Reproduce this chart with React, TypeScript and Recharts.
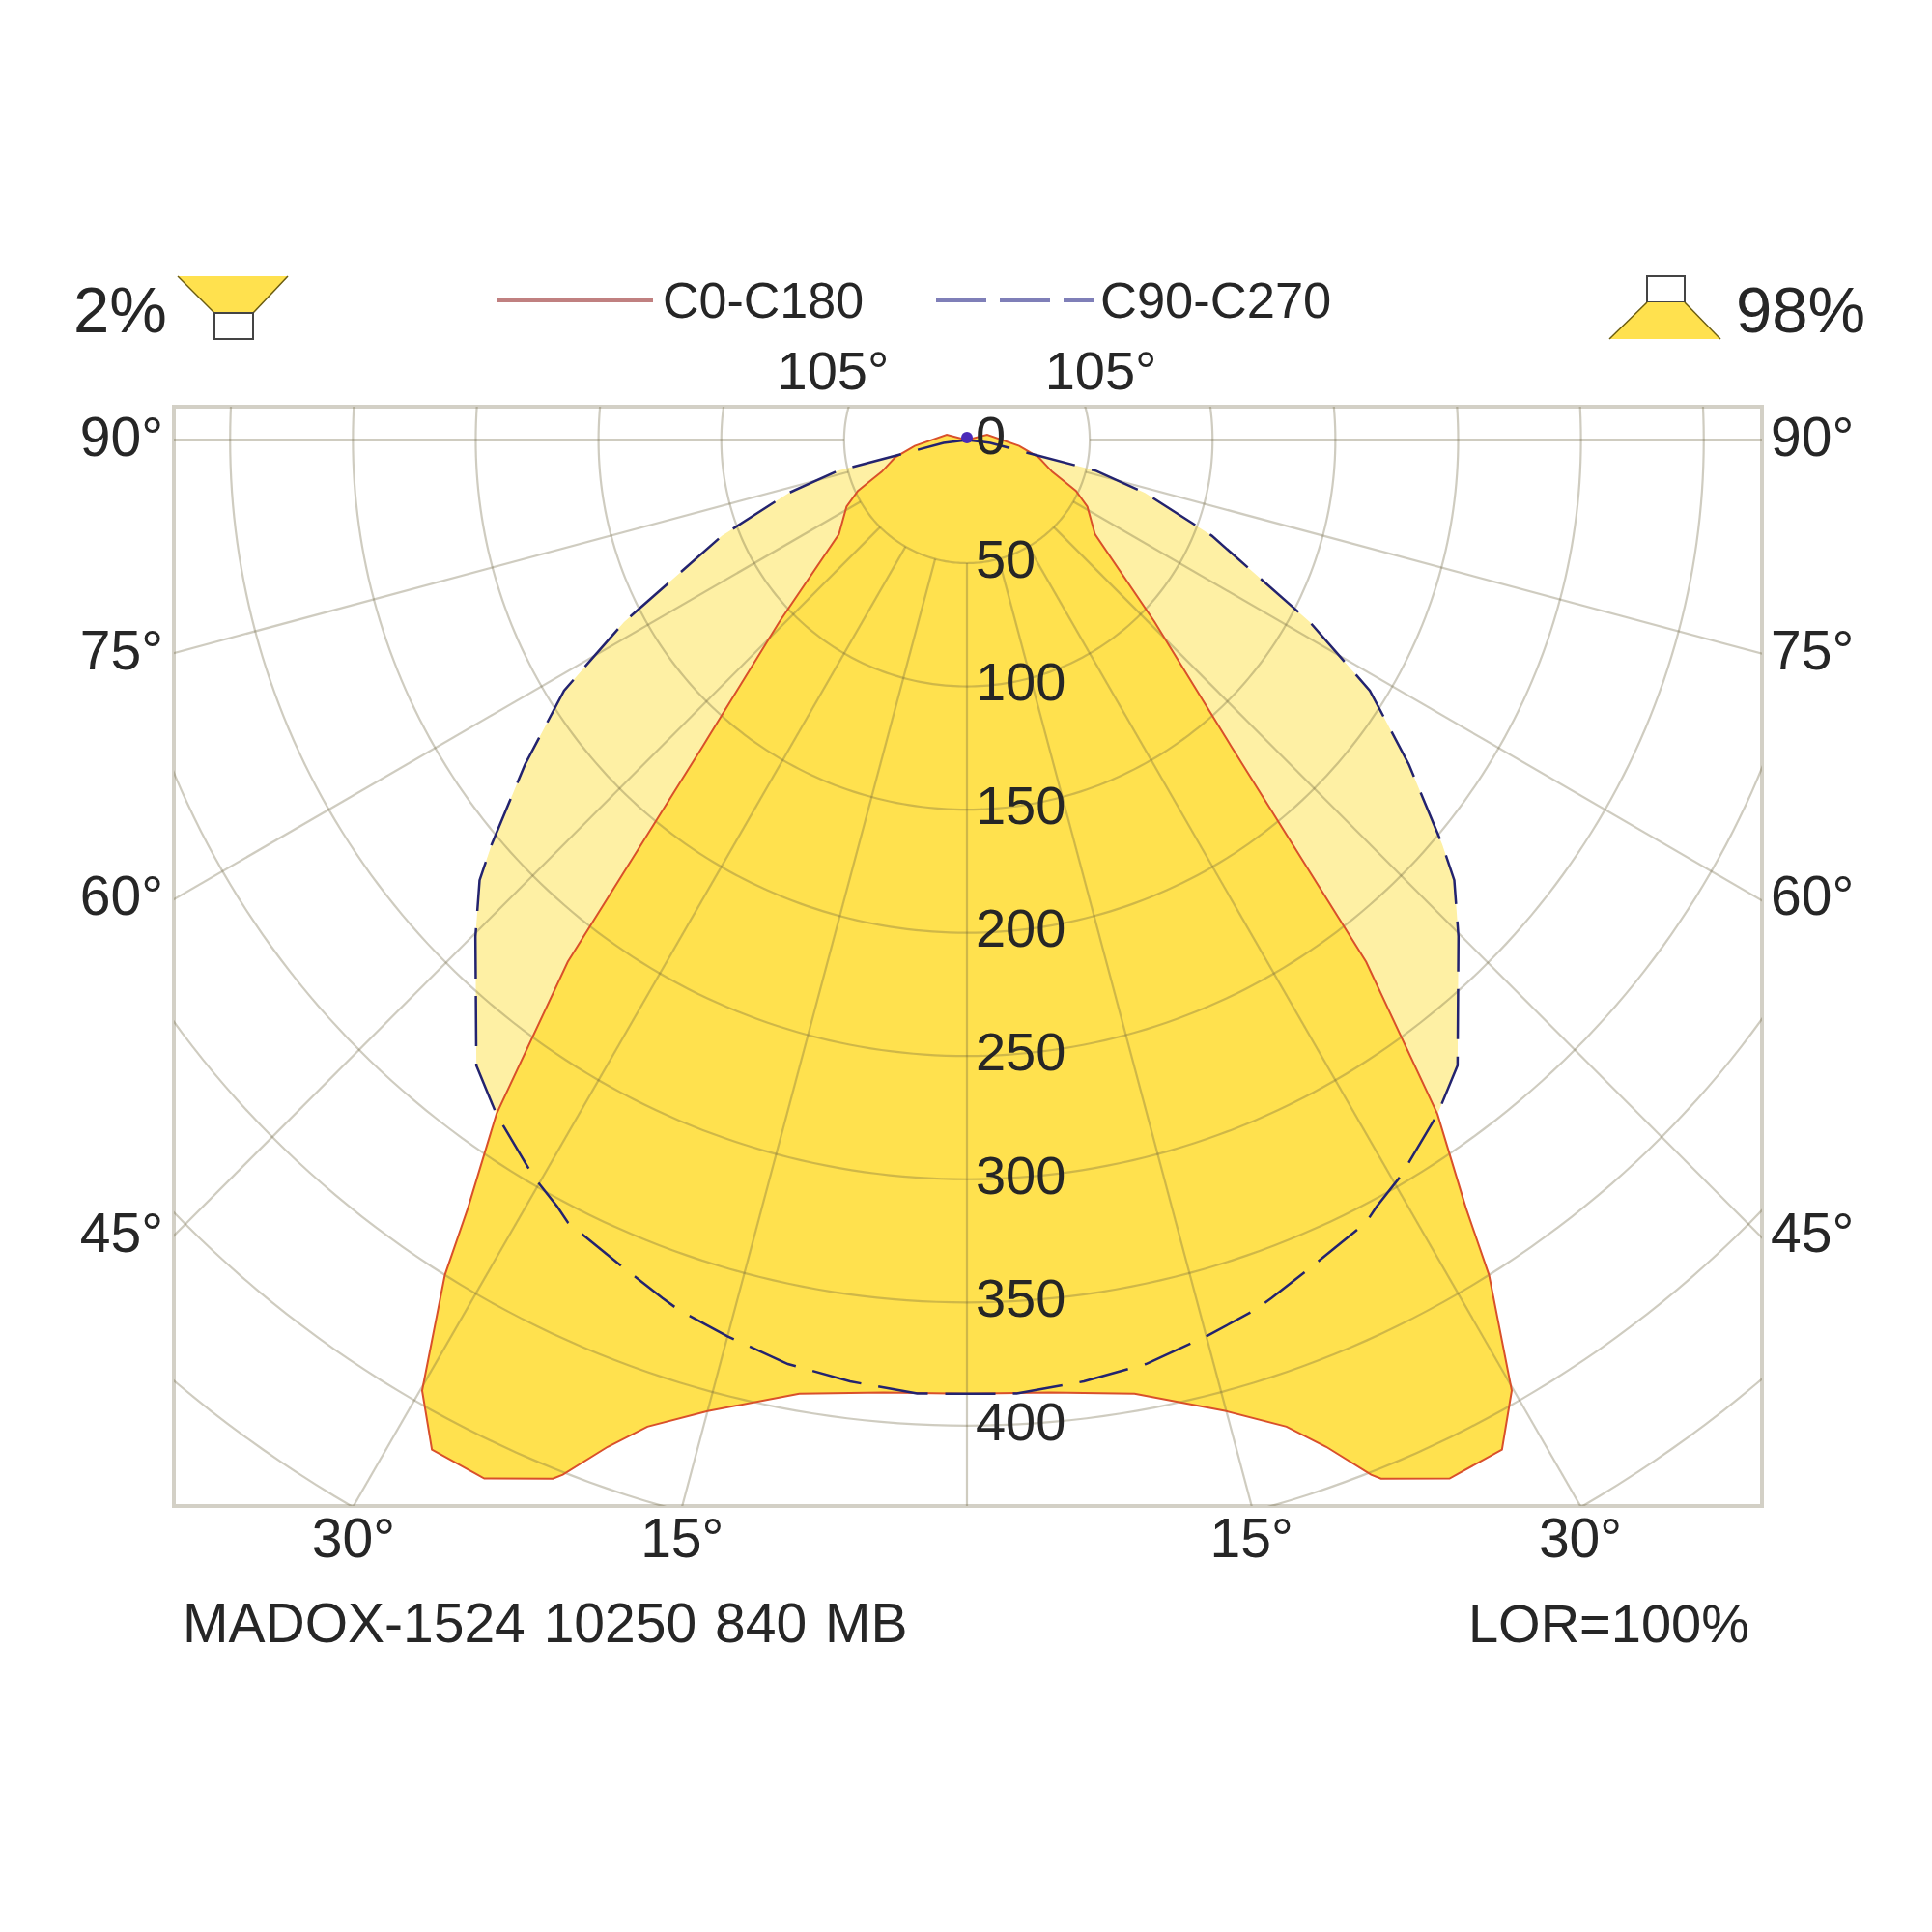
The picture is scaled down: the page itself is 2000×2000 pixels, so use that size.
import { ScatterChart, Scatter, XAxis, YAxis, ReferenceArea, ReferenceDot } from "recharts"

// half curves, the other side of the diagram is the mirror image
const c0Gamma = [0, 5, 10, 15, 18, 19.7, 21.4, 21.8, 25, 28, 29.9, 32.1, 33.1, 35, 37.5, 40.9, 46, 53.7, 58.2, 61.1, 65, 67, 69.6, 76.5, 83.5, 104.7, 180]
const c0Intensity = [387, 388, 393, 408, 421, 434, 451, 454, 465, 464, 445, 400, 372, 334, 267, 164, 106, 64.7, 59, 56, 49, 43, 37, 30, 21.4, 8.5, 0]
const c90Gamma = [0, 3, 7.1, 11, 15, 18.4, 19.6, 22.8, 27.1, 28.2, 30.6, 35, 38.2, 44.8, 48, 49.7, 53.8, 58.2, 62.1, 68.7, 73.5, 76.6, 77.6, 83, 180]
const c90Intensity = [387, 387.5, 385, 382, 376.6, 372, 369.6, 363.5, 356.7, 353, 347, 334, 323, 284, 267, 253.7, 223, 193, 158, 107, 75.6, 54, 29.4, 9.6, 0]

const radialTicks = [0, 50, 100, 150, 200, 250, 300, 350, 400]
const gridRadii = [50, 100, 150, 200, 250, 300, 350, 400, 450, 500]
const gridAngles = [-90, -75, -60, -45, -30, -15, 0, 15, 30, 45, 60, 75, 90]
const sideAngles = [90, 75, 60, 45]
const bottomAngles = [30, 15]

const X_LEFT = -322.9
const X_RIGHT = 323.7
const Y_MAX = 13.5
const Y_MIN = -432.6

const FONT = "'Liberation Sans', Arial, sans-serif"
const TEXT = "#262626"
const GRID = "rgba(105,95,60,0.32)"
const FRAME = "#d3d0c6"

const toXY = (gamma: number, value: number) => {
  const a = (gamma * Math.PI) / 180
  return { x: value * Math.sin(a), y: -value * Math.cos(a) }
}

const closedCurve = (gammas: number[], values: number[]) => {
  const right = gammas.map((g, i) => toXY(g, values[i]))
  const left = gammas.map((g, i) => toXY(-g, values[i])).reverse()
  return [...left, ...right.slice(1)]
}

const arc = (r: number) => {
  const pts = []
  for (let g = -180; g <= 180; g += 1) pts.push(toXY(g, r))
  return pts
}

const c0Curve = closedCurve(c0Gamma, c0Intensity)
const c90Curve = closedCurve(c90Gamma, c90Intensity)

const noDot = () => null

const labelStyle = { fontSize: 56, fontFamily: FONT, fill: TEXT }
const angleStyle = { fontSize: 57, fontFamily: FONT, fill: TEXT }

export default function App() {
  return (
    <div style={{ position: "absolute", left: 0, top: 0, width: 2000, height: 2000, background: "#fff" }}>
      <ScatterChart width={2000} height={2000} margin={{ top: 421, right: 176, bottom: 441, left: 180 }}>
        <XAxis type="number" dataKey="x" domain={[X_LEFT, X_RIGHT]} allowDataOverflow hide />
        <YAxis type="number" dataKey="y" domain={[Y_MIN, Y_MAX]} allowDataOverflow hide />

        <Scatter data={c90Curve} shape={noDot} isAnimationActive={false} line={{ stroke: "none", fill: "#fef0a4" }} />
        <Scatter data={c0Curve} shape={noDot} isAnimationActive={false} line={{ stroke: "none", fill: "#ffe14e" }} />

        {gridRadii.map((r) => (
          <Scatter key={r} data={arc(r)} shape={noDot} isAnimationActive={false} line={{ stroke: GRID, strokeWidth: 2.2, fill: "none" }} />
        ))}
        {gridAngles.map((g) => (
          <Scatter
            key={g}
            data={[toXY(g, 50), toXY(g, 700)]}
            shape={noDot}
            isAnimationActive={false}
            line={{ stroke: GRID, strokeWidth: Math.abs(g) === 90 ? 3 : 2.2, fill: "none" }}
          />
        ))}

        <Scatter data={c0Curve} shape={noDot} isAnimationActive={false} line={{ stroke: "#d9502a", strokeWidth: 2, fill: "none" }} />
        <Scatter data={c90Curve} shape={noDot} isAnimationActive={false} line={{ stroke: "#23236f", strokeWidth: 2.5, fill: "none", strokeDasharray: "52 18" }} />

        <ReferenceArea x1={X_LEFT} x2={X_RIGHT} y1={Y_MIN} y2={Y_MAX} fill="none" stroke={FRAME} strokeWidth={4} ifOverflow="visible" />

        <ReferenceDot x={0} y={1} r={6} fill="#4a2ab8" stroke="none" ifOverflow="visible" isFront />
        {radialTicks.map((v) => (
          <ReferenceDot key={v} x={0} y={-v + 2} r={0} ifOverflow="visible" isFront label={{ value: String(v), position: "right", offset: 9, ...labelStyle }} />
        ))}
        {sideAngles.map((g) => {
          const t = g === 90 ? Infinity : Math.tan((g * Math.PI) / 180)
          return [
            <ReferenceDot key={`l${g}`} x={X_LEFT} y={X_LEFT / t + 1.5} r={0} ifOverflow="visible" label={{ value: `${g}°`, position: "left", offset: 11, ...angleStyle }} />,
            <ReferenceDot key={`r${g}`} x={X_RIGHT} y={X_LEFT / t + 1.5} r={0} ifOverflow="visible" label={{ value: `${g}°`, position: "right", offset: 9, ...angleStyle }} />,
          ]
        })}
        {bottomAngles.map((g) => {
          const x = -Y_MIN * Math.tan((g * Math.PI) / 180)
          return [
            <ReferenceDot key={`bl${g}`} x={-x} y={Y_MIN} r={0} ifOverflow="visible" label={{ value: `${g}°`, position: "bottom", offset: 13, ...angleStyle }} />,
            <ReferenceDot key={`br${g}`} x={x} y={Y_MIN} r={0} ifOverflow="visible" label={{ value: `${g}°`, position: "bottom", offset: 13, ...angleStyle }} />,
          ]
        })}
        <ReferenceDot x={-54.5} y={Y_MAX} r={0} ifOverflow="visible" label={{ value: "105°", position: "top", offset: 18, ...labelStyle }} />
        <ReferenceDot x={54.5} y={Y_MAX} r={0} ifOverflow="visible" label={{ value: "105°", position: "top", offset: 18, ...labelStyle }} />

        {/* legend */}
        <line x1={515} x2={676} y1={311} y2={311} stroke="#c08080" strokeWidth={4} />
        <text x={686} y={329} {...labelStyle} fontSize={52}>C0-C180</text>
        <line x1={969} x2={1133} y1={311} y2={311} stroke="#7f7fb8" strokeWidth={4} strokeDasharray="52 14" />
        <text x={1139} y={329} {...labelStyle} fontSize={52.5}>C90-C270</text>

        {/* flux split icons */}
        <text x={76} y={344} {...labelStyle} fontSize={67}>2%</text>
        <polygon points="184,286 298,286 262,324 222,324" fill="#ffe14e" />
        <line x1={184} y1={286} x2={222} y2={324} stroke="#6b5c10" strokeWidth={1.5} />
        <line x1={298} y1={286} x2={262} y2={324} stroke="#6b5c10" strokeWidth={1.5} />
        <rect x={222} y={324} width={40} height={27} fill="#fff" stroke="#444" strokeWidth={2} />
        <text x={1797} y={344} {...labelStyle} fontSize={67}>98%</text>
        <rect x={1705} y={286} width={39} height={27} fill="#fff" stroke="#444" strokeWidth={2} />
        <polygon points="1705,313 1744,313 1781,351 1666,351" fill="#ffe14e" />
        <line x1={1705} y1={313} x2={1666} y2={351} stroke="#6b5c10" strokeWidth={1.5} />
        <line x1={1744} y1={313} x2={1781} y2={351} stroke="#6b5c10" strokeWidth={1.5} />

        <text x={189} y={1700} {...labelStyle} fontSize={57} wordSpacing={3}>MADOX-1524 10250 840 MB</text>
        <text x={1811} y={1700} textAnchor="end" {...labelStyle}>LOR=100%</text>
      </ScatterChart>
    </div>
  )
}
